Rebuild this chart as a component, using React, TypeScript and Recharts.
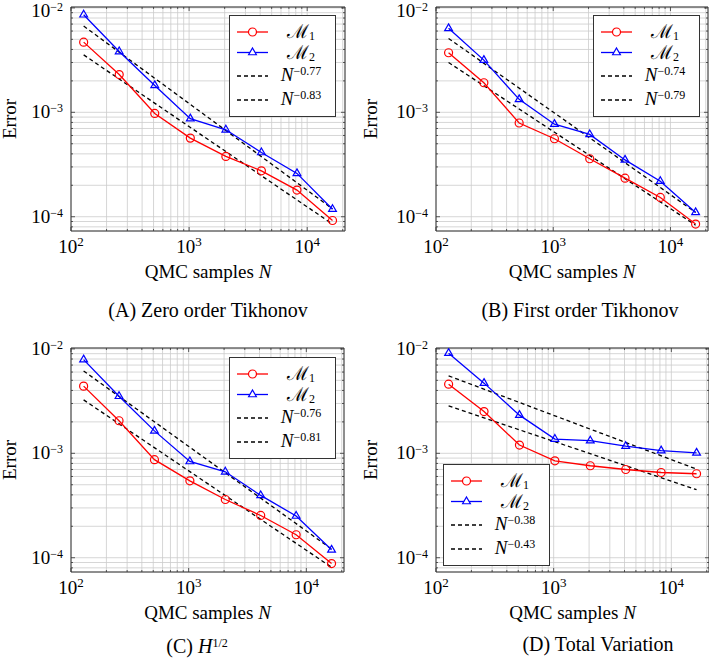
import React from "react";
import {
  CartesianGrid,
  Label,
  Legend,
  Line,
  LineChart,
  ReferenceArea,
  XAxis,
  YAxis,
} from "recharts";

// QMC sample counts and the two end points of each fitted rate line
const samples = [128, 256, 512, 1024, 2048, 4096, 8192, 16384];
const fitEnds = [128, 16384];

// (A) zero order Tikhonov
const zeroM1 = [4.7e-3, 2.3e-3, 9.75e-4, 5.66e-4, 3.78e-4, 2.75e-4, 1.8e-4, 9.2e-5];
const zeroM2 = [8.6e-3, 3.82e-3, 1.81e-3, 8.7e-4, 6.8e-4, 4.12e-4, 2.6e-4, 1.18e-4];
const zeroFitUpper = [6.7e-3, 1.19e-4];
const zeroFitLower = [3.55e-3, 8.5e-5];

// (B) first order Tikhonov
const firstM1 = [3.72e-3, 1.92e-3, 7.9e-4, 5.58e-4, 3.59e-4, 2.34e-4, 1.53e-4, 8.5e-5];
const firstM2 = [6.37e-3, 3.16e-3, 1.33e-3, 7.7e-4, 6.14e-4, 3.5e-4, 2.19e-4, 1.1e-4];
const firstFitUpper = [5.1e-3, 1.1e-4];
const firstFitLower = [3.0e-3, 8.3e-5];

// (C) H^{1/2}
const halfM1 = [4.4e-3, 2.05e-3, 8.7e-4, 5.45e-4, 3.61e-4, 2.54e-4, 1.66e-4, 8.8e-5];
const halfM2 = [7.9e-3, 3.52e-3, 1.64e-3, 8.35e-4, 6.65e-4, 3.95e-4, 2.51e-4, 1.19e-4];
const halfFitUpper = [6.15e-3, 1.21e-4];
const halfFitLower = [3.25e-3, 8.1e-5];

// (D) total variation
const tvM1 = [4.59e-3, 2.51e-3, 1.2e-3, 8.48e-4, 7.6e-4, 7.0e-4, 6.55e-4, 6.37e-4];
const tvM2 = [9.1e-3, 4.7e-3, 2.32e-3, 1.37e-3, 1.32e-3, 1.17e-3, 1.06e-3, 1.01e-3];
const tvFitUpper = [5.52e-3, 7.06e-4];
const tvFitLower = [2.85e-3, 4.48e-4];

const xTicks = [
  100, 200, 300, 400, 500, 600, 700, 800, 900,
  1000, 2000, 3000, 4000, 5000, 6000, 7000, 8000, 9000,
  10000, 20000,
];
const yTicks = [
  0.00008, 0.00009,
  0.0001, 0.0002, 0.0003, 0.0004, 0.0005, 0.0006, 0.0007, 0.0008, 0.0009,
  0.001, 0.002, 0.003, 0.004, 0.005, 0.006, 0.007, 0.008, 0.009,
  0.01,
];

const X_MIN = 100;
const X_MAX = 20900;
const Y_MIN = 7.3e-5;
const Y_MAX = 1.02e-2;

const RED = "#ff0000";
const BLUE = "#0000ff";
const FRAME = "#333333";
const SERIF = '"Liberation Serif", "DejaVu Serif", serif';
const AXIS_W = 71;
const PAD_L = 14;
const TOP = 17;

const isPow10 = (v: number) => {
  const l = Math.log10(v);
  return Math.abs(l - Math.round(l)) < 1e-9;
};

const toRows = (xs: number[], vals: number[]) =>
  xs.map((n, i) => ({ n, e: vals[i] }));

const XTick = (props: any) => {
  const { x, payload, top, bottom } = props;
  const v = payload.value as number;
  const major = isPow10(v);
  const len = major ? 4 : 2;
  return (
    <g>
      <line x1={x} x2={x} y1={bottom} y2={bottom - len} stroke={FRAME} strokeWidth={0.8} />
      <line x1={x} x2={x} y1={top} y2={top + len} stroke={FRAME} strokeWidth={0.8} />
      {major && (
        <text x={x} y={bottom + 22} textAnchor="middle" fontFamily={SERIF} fontSize={19} fill="#000">
          10
          <tspan dy={-7} fontSize={13}>
            {Math.round(Math.log10(v))}
          </tspan>
        </text>
      )}
    </g>
  );
};

const YTick = (props: any) => {
  const { y, payload, left, right, minBase } = props;
  const v = payload.value as number;
  const major = isPow10(v);
  const len = major ? 4 : 2;
  // keep the top label inside the picture
  const base = Math.max(y + 6, minBase);
  return (
    <g>
      <line x1={left} x2={left + len} y1={y} y2={y} stroke={FRAME} strokeWidth={0.8} />
      <line x1={right} x2={right - len} y1={y} y2={y} stroke={FRAME} strokeWidth={0.8} />
      {major && (
        <text x={left - 8} y={base} textAnchor="end" fontFamily={SERIF} fontSize={19} fill="#000">
          10
          <tspan dy={-6} fontSize={12}>
            {"\u2212" + Math.abs(Math.round(Math.log10(v)))}
          </tspan>
        </text>
      )}
    </g>
  );
};

const triangle = (cx: number, cy: number, r: number) =>
  `M${cx},${cy - r} L${cx + 0.866 * r},${cy + 0.5 * r} L${cx - 0.866 * r},${cy + 0.5 * r} Z`;

const supStyle: React.CSSProperties = {
  fontSize: 12,
  lineHeight: 0,
  verticalAlign: "baseline",
  position: "relative",
  top: -6,
};
const subStyle: React.CSSProperties = {
  fontSize: 12,
  lineHeight: 0,
  verticalAlign: "baseline",
  position: "relative",
  top: 2,
};

const LegendBox = ({ rates }: { rates: string[] }) => {
  const rows = [
    { kind: "m1", h: 20 },
    { kind: "m2", h: 21 },
    { kind: "f1", h: 24 },
    { kind: "f2", h: 24 },
  ];
  return (
    <div
      style={{
        width: 107,
        height: 102,
        boxSizing: "border-box",
        border: `1px solid ${FRAME}`,
        background: "#fff",
        paddingTop: 6,
        fontFamily: SERIF,
        fontSize: 19,
        color: "#000",
      }}
    >
      {rows.map((r, i) => (
        <div key={i} style={{ position: "relative", height: r.h }}>
          <svg width={34} height={r.h} style={{ position: "absolute", left: 5, top: 0 }}>
            {r.kind === "m1" && (
              <>
                <line x1={2} x2={33} y1={r.h / 2} y2={r.h / 2} stroke={RED} strokeWidth={1.3} />
                <circle cx={17.5} cy={r.h / 2} r={4} fill="#fff" stroke={RED} strokeWidth={1.2} />
              </>
            )}
            {r.kind === "m2" && (
              <>
                <line x1={2} x2={33} y1={r.h / 2} y2={r.h / 2} stroke={BLUE} strokeWidth={1.3} />
                <path d={triangle(17.5, r.h / 2, 4.5)} fill="#fff" stroke={BLUE} strokeWidth={1.2} />
              </>
            )}
            {(r.kind === "f1" || r.kind === "f2") && (
              <line x1={2} x2={33} y1={r.h / 2 + 1} y2={r.h / 2 + 1} stroke="#000" strokeWidth={1.3} strokeDasharray="4 3" />
            )}
          </svg>
          <div
            style={{
              position: "absolute",
              left: 40,
              width: 62,
              top: 0,
              height: r.h,
              lineHeight: `${r.h}px`,
              textAlign: "center",
              whiteSpace: "nowrap",
            }}
          >
            {r.kind === "m1" && (
              <span>
                {"\u2133"}
                <span style={subStyle}>1</span>
              </span>
            )}
            {r.kind === "m2" && (
              <span>
                {"\u2133"}
                <span style={subStyle}>2</span>
              </span>
            )}
            {r.kind === "f1" && (
              <span>
                <i>N</i>
                <span style={supStyle}>{"\u2212" + rates[0]}</span>
              </span>
            )}
            {r.kind === "f2" && (
              <span>
                <i>N</i>
                <span style={supStyle}>{"\u2212" + rates[1]}</span>
              </span>
            )}
          </div>
        </div>
      ))}
    </div>
  );
};

interface PanelProps {
  left: number;
  top: number;
  plotW: number;
  plotH: number;
  m1: number[];
  m2: number[];
  fitUpper: number[];
  fitLower: number[];
  rates: string[];
  legendX: number;
  legendY: number;
  errorX: number;
}

const Panel = (p: PanelProps) => {
  const originX = p.left - AXIS_W - PAD_L;
  const originY = p.top - TOP;
  const W = PAD_L + AXIS_W + p.plotW + 2;
  const H = TOP + p.plotH + 60;
  const plotL = PAD_L + AXIS_W;
  const bottom = TOP + p.plotH;
  const right = plotL + p.plotW;
  const ex = p.errorX - originX;
  const minBase = 17 - originY;
  return (
    <div style={{ position: "absolute", left: originX, top: originY, width: W, height: H }}>
      <LineChart width={W} height={H} margin={{ top: TOP, right: 2, bottom: 0, left: PAD_L }}>
        <CartesianGrid stroke="#cbcbcb" strokeWidth={0.8} />
        <XAxis
          dataKey="n"
          type="number"
          scale="log"
          domain={[X_MIN, X_MAX]}
          allowDataOverflow
          ticks={xTicks}
          interval={0}
          height={H - bottom}
          axisLine={false}
          tickLine={false}
          tick={(t: any) => <XTick {...t} top={TOP} bottom={bottom} />}
        >
          <Label
            content={() => (
              <text x={plotL + p.plotW / 2} y={bottom + 47} textAnchor="middle" fontFamily={SERIF} fontSize={19} fill="#000">
                QMC samples <tspan fontStyle="italic">N</tspan>
              </text>
            )}
          />
        </XAxis>
        <YAxis
          type="number"
          scale="log"
          domain={[Y_MIN, Y_MAX]}
          allowDataOverflow
          ticks={yTicks}
          interval={0}
          width={AXIS_W}
          axisLine={false}
          tickLine={false}
          tick={(t: any) => <YTick {...t} left={plotL} right={right} minBase={minBase} />}
        >
          <Label
            content={() => (
              <text
                x={ex}
                y={TOP + p.plotH / 2}
                transform={`rotate(-90 ${ex} ${TOP + p.plotH / 2})`}
                textAnchor="middle"
                fontFamily={SERIF}
                fontSize={19}
                fill="#000"
              >
                Error
              </text>
            )}
          />
        </YAxis>
        <ReferenceArea
          x1={X_MIN}
          x2={X_MAX}
          y1={Y_MIN}
          y2={Y_MAX}
          fill="none"
          stroke={FRAME}
          strokeWidth={1}
          ifOverflow="visible"
        />
        <Line
          data={toRows(fitEnds, p.fitUpper)}
          dataKey="e"
          stroke="#000"
          strokeWidth={1.3}
          strokeDasharray="4 3"
          dot={false}
          isAnimationActive={false}
        />
        <Line
          data={toRows(fitEnds, p.fitLower)}
          dataKey="e"
          stroke="#000"
          strokeWidth={1.3}
          strokeDasharray="4 3"
          dot={false}
          isAnimationActive={false}
        />
        <Line
          data={toRows(samples, p.m1)}
          dataKey="e"
          type="linear"
          stroke={RED}
          strokeWidth={1.3}
          dot={{ r: 4, fill: "none", stroke: RED, strokeWidth: 1.2 }}
          isAnimationActive={false}
        />
        <Line
          data={toRows(samples, p.m2)}
          dataKey="e"
          type="linear"
          stroke={BLUE}
          strokeWidth={1.3}
          dot={(d: any) => (
            <path key={d.index} d={triangle(d.cx, d.cy, 4.5)} fill="none" stroke={BLUE} strokeWidth={1.2} />
          )}
          isAnimationActive={false}
        />
        <Legend
          layout="vertical"
          align="center"
          verticalAlign="middle"
          wrapperStyle={{ left: p.legendX - originX, top: p.legendY - originY, width: 107, height: 102 }}
          content={() => <LegendBox rates={p.rates} />}
        />
      </LineChart>
    </div>
  );
};

const Caption = ({ x, y, children }: { x: number; y: number; children: React.ReactNode }) => (
  <div
    style={{
      position: "absolute",
      left: x - 150,
      width: 300,
      top: y - 17,
      height: 22,
      lineHeight: "22px",
      textAlign: "center",
      fontFamily: SERIF,
      fontSize: 20,
      color: "#000",
      whiteSpace: "nowrap",
    }}
  >
    {children}
  </div>
);

export default function App() {
  return (
    <div
      style={{
        position: "absolute",
        left: 0,
        top: 0,
        width: 709,
        height: 659,
        overflow: "hidden",
        background: "#fff",
      }}
    >
      <Panel
        left={71}
        top={7}
        plotW={274}
        plotH={224}
        m1={zeroM1}
        m2={zeroM2}
        fitUpper={zeroFitUpper}
        fitLower={zeroFitLower}
        rates={["0.77", "0.83"]}
        legendX={229}
        legendY={15}
        errorX={16}
      />
      <Panel
        left={436}
        top={7}
        plotW={272}
        plotH={224}
        m1={firstM1}
        m2={firstM2}
        fitUpper={firstFitUpper}
        fitLower={firstFitLower}
        rates={["0.74", "0.79"]}
        legendX={593}
        legendY={15}
        errorX={377}
      />
      <Panel
        left={71}
        top={348}
        plotW={273}
        plotH={224}
        m1={halfM1}
        m2={halfM2}
        fitUpper={halfFitUpper}
        fitLower={halfFitLower}
        rates={["0.76", "0.81"]}
        legendX={229}
        legendY={357}
        errorX={16}
      />
      <Panel
        left={436}
        top={348}
        plotW={273}
        plotH={224}
        m1={tvM1}
        m2={tvM2}
        fitUpper={tvFitUpper}
        fitLower={tvFitLower}
        rates={["0.38", "0.43"]}
        legendX={443}
        legendY={464}
        errorX={377}
      />
      <Caption x={208} y={316}>(A) Zero order Tikhonov</Caption>
      <Caption x={580} y={316}>(B) First order Tikhonov</Caption>
      <Caption x={197} y={652}>
        (C) <i>H</i>
        <span style={supStyle}>1/2</span>
      </Caption>
      <Caption x={598} y={650}>(D) Total Variation</Caption>
    </div>
  );
}
